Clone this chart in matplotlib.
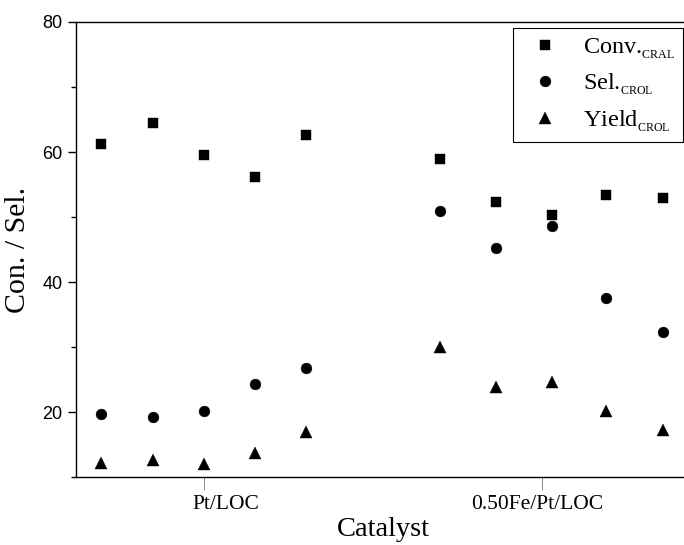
import matplotlib
matplotlib.use('Agg')
import matplotlib.pyplot as plt
from matplotlib.ticker import FixedLocator
from matplotlib.transforms import ScaledTranslation

# ---- data ----
categories = ['Pt/LOC', '0.50Fe/Pt/LOC']
category_pos = [3, 9.6]
x_pt = [1, 2, 3, 4, 5]
x_fe = [7.6, 8.7, 9.8, 10.85, 11.95]
conv_pt = [61.2, 64.4, 59.6, 56.1, 62.7]
conv_fe = [58.9, 52.4, 50.4, 53.4, 52.9]
sel_pt = [19.7, 19.3, 20.2, 24.3, 26.8]
sel_fe = [51.0, 45.3, 48.6, 37.5, 32.4]
yield_pt = [12.15, 12.6, 12.1, 13.7, 16.95]
yield_fe = [30.05, 23.9, 24.7, 20.2, 17.2]
y_major = [20, 40, 60, 80]
y_minor = [10, 30, 50, 70]
legend_labels = [r'Conv.$_{_{\mathrm{CRAL}}}$', r'Sel.$_{_{\mathrm{CROL}}}$', r'Yield$_{_{\mathrm{CROL}}}$']

plt.rcParams['mathtext.fontset'] = 'custom'
plt.rcParams['mathtext.rm'] = 'Liberation Serif'
plt.rcParams['mathtext.it'] = 'Liberation Serif:italic'
plt.rcParams['mathtext.bf'] = 'Liberation Serif:bold'

fig = plt.figure(figsize=(6.84, 5.45), dpi=100)
ax = fig.add_axes([75.7 / 684, 67.7 / 545, 615 / 684, 455.3 / 545])

xs = x_pt + x_fe
ax.plot(xs, conv_pt + conv_fe, 's', color='black', ms=7.2, mew=0.3, label=legend_labels[0])
ax.plot(xs, sel_pt + sel_fe, 'o', color='black', ms=7.8, mew=0.3, label=legend_labels[1])
ax.plot(xs, yield_pt + yield_fe, '^', color='black', ms=8.2, mew=0.3, label=legend_labels[2])

ax.set_xlim(0.5, 12.5)
ax.set_ylim(10, 80)

ax.spines['right'].set_visible(False)
for s in ['left', 'bottom', 'top']:
    ax.spines[s].set_linewidth(1.0)

ax.set_xticks(category_pos)
ax.set_xticklabels(categories, fontfamily='Liberation Serif', fontsize=15.5)
ax.tick_params(axis='x', direction='out', length=9, width=0.6, color='#777777', pad=4, top=False)

ax.yaxis.set_major_locator(FixedLocator(y_major))
ax.yaxis.set_minor_locator(FixedLocator(y_minor))
ax.tick_params(axis='y', which='major', direction='out', length=6, width=1.0, pad=3.5,
               labelsize=13, right=False)
ax.tick_params(axis='y', which='minor', direction='out', length=3.5, width=1.0, right=False)
for lab in ax.get_yticklabels():
    lab.set_fontfamily('Liberation Sans')

# the category labels sit slightly off their ticks in the reference
for lab, dx in zip(ax.get_xticklabels(), [22, -5]):
    lab.set_transform(lab.get_transform() + ScaledTranslation(dx / 100, 0, fig.dpi_scale_trans))

ax.set_xlabel('Catalyst', fontfamily='Liberation Serif', fontsize=20.5, labelpad=2)
ax.set_ylabel('Con. / Sel.', fontfamily='Liberation Serif', fontsize=21.5, labelpad=8)

leg = ax.legend(loc='upper right', bbox_to_anchor=(0.9875, 0.9868), borderaxespad=0,
                prop={'family': 'Liberation Serif', 'size': 17.5}, frameon=True, fancybox=False,
                edgecolor='black', framealpha=1, handletextpad=0.55, labelspacing=0.45,
                borderpad=0.33, handlelength=2.0)
leg.get_frame().set_linewidth(0.8)

fig.savefig('out.png', dpi=100)
